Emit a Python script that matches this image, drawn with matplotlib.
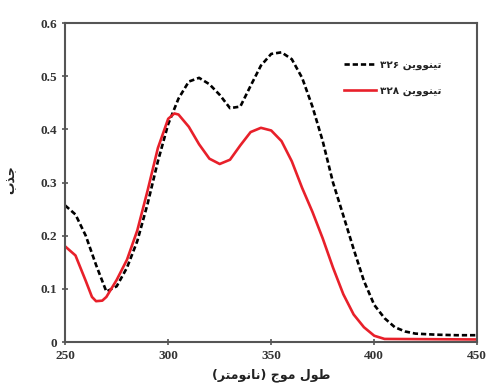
import matplotlib
matplotlib.use("Agg")
import matplotlib.pyplot as plt
from matplotlib.ticker import FixedLocator, FuncFormatter

# wavelength (nm) and absorbance
wl_326 = [250, 255, 260, 265, 270, 275, 280, 285, 290, 295, 300, 305, 310, 315,
          320, 325, 330, 335, 340, 345, 350, 355, 360, 365, 370, 375, 380, 385,
          390, 395, 400, 405, 410, 415, 420, 430, 440, 450]
abs_326 = [0.257, 0.240, 0.200, 0.145, 0.095, 0.105, 0.140, 0.190, 0.260, 0.340,
           0.410, 0.458, 0.490, 0.497, 0.485, 0.465, 0.440, 0.443, 0.482, 0.520,
           0.542, 0.545, 0.532, 0.497, 0.443, 0.378, 0.300, 0.238, 0.175, 0.115,
           0.070, 0.045, 0.028, 0.020, 0.016, 0.014, 0.013, 0.013]

wl_328 = [250, 255, 260, 263, 265, 268, 270, 275, 280, 285, 290, 295, 300, 303,
          305, 310, 315, 320, 325, 330, 335, 340, 345, 350, 355, 360, 365, 370,
          375, 380, 385, 390, 395, 400, 405, 450]
abs_328 = [0.180, 0.163, 0.115, 0.085, 0.077, 0.078, 0.085, 0.117, 0.155, 0.210,
           0.285, 0.365, 0.420, 0.430, 0.428, 0.405, 0.372, 0.345, 0.335, 0.343,
           0.370, 0.395, 0.403, 0.398, 0.378, 0.340, 0.290, 0.245, 0.195, 0.140,
           0.090, 0.052, 0.028, 0.012, 0.006, 0.005]

x_ticks = [250, 300, 350, 400, 450]
y_ticks = [0, 0.1, 0.2, 0.3, 0.4, 0.5, 0.6]

# Persian strings, pre-shaped (presentation forms) in visual order
label_326 = "\u06F3\u06F2\u06F6 \uFEE6\uFBFE\uFEED\uFEEE\uFEE8\uFBFF\uFE97"  # تینووین ۳۲۶
label_328 = "\u06F3\u06F2\u06F8 \uFEE6\uFBFE\uFEED\uFEEE\uFEE8\uFBFF\uFE97"  # تینووین ۳۲۸
x_title = ("(\uFEAE\uFE98\uFEE3\uFEEE\uFEE7\uFE8E\uFEE7) "
           "\uFE9D\uFEEE\uFEE3 \uFEDD\uFEEE\uFEC3")                           # طول موج (نانومتر)
y_title = "\uFE8F\uFEAC\uFE9F"                                                  # جذب

fa_font = dict(family=["DejaVu Sans"], weight="bold")
num_font = dict(family=["Liberation Serif"], weight="bold", size=9.5)

fig = plt.figure(figsize=(4.9, 3.91), dpi=100)
ax = fig.add_axes([0.133, 0.125, 0.841, 0.816])

ax.plot(wl_326, abs_326, color="black", lw=1.9, ls=(0, (2.0, 1.1)), label=label_326)
ax.plot(wl_328, abs_328, color="#e8202a", lw=1.9, label=label_328)

ax.set_xlim(250, 450)
ax.set_ylim(0, 0.6)
ax.xaxis.set_major_locator(FixedLocator(x_ticks))
ax.yaxis.set_major_locator(FixedLocator(y_ticks))
ax.yaxis.set_major_formatter(FuncFormatter(lambda v, p: "0" if v == 0 else f"{v:.1f}"))
ax.tick_params(direction="inout", length=5, width=1.2, color="#555555",
               labelcolor="#333333", pad=3)
for lab in ax.get_xticklabels() + ax.get_yticklabels():
    lab.set_fontproperties(num_font)
for sp in ax.spines.values():
    sp.set_color("#555555")
    sp.set_linewidth(1.5)

ax.set_xlabel(x_title, fontsize=9, color="#222222", labelpad=5, **fa_font)
ax.set_ylabel(y_title, fontsize=9, color="#222222", **fa_font)
ax.yaxis.set_label_coords(-0.115, 0.51)

leg = ax.legend(loc="upper left", bbox_to_anchor=(0.655, 0.915), frameon=False,
                handlelength=3.0, handletextpad=0.4, labelspacing=1.5,
                prop=dict(family=["DejaVu Sans"], weight="bold", size=7.5))
for t in leg.get_texts():
    t.set_color("#222222")

fig.savefig("out.png", dpi=100)
